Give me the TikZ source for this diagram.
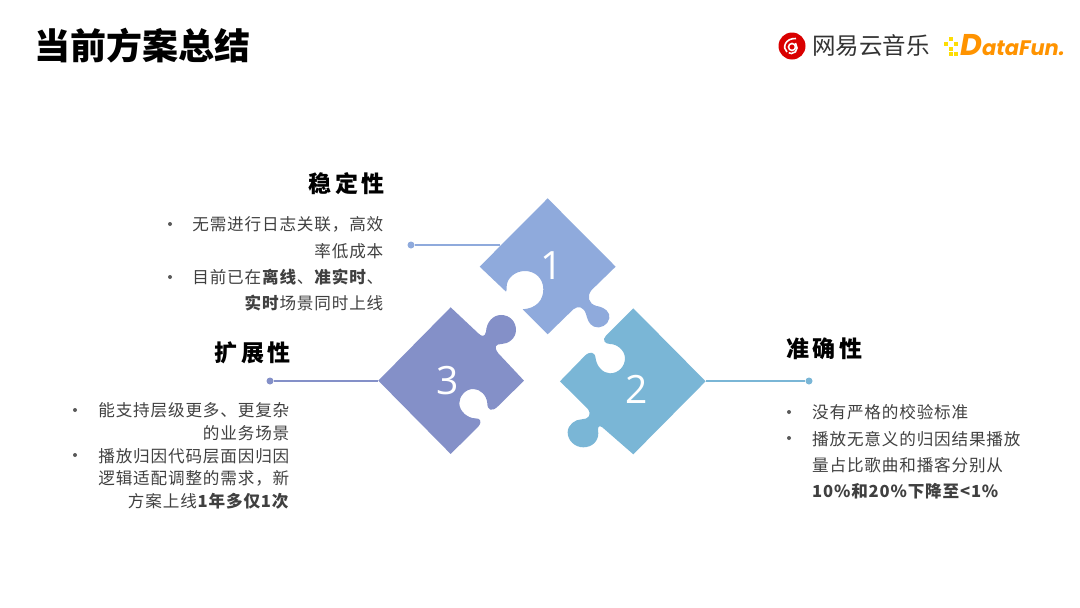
\documentclass[tikz,border=0pt]{standalone}
\usepackage{fontspec}
\setmainfont{Noto Sans CJK SC}
\newfontfamily\spacedfont[LetterSpace=5]{Noto Sans CJK SC}
\newfontfamily\headfont[LetterSpace=15]{Noto Sans CJK SC}
\newfontfamily\digitfont{Open Sans}
\newfontfamily\brandfont{Poppins}
\begin{document}
\begin{tikzpicture}[x=1pt,y=-1pt,
  body/.style={inner sep=0pt,text=black!75,font=\fontsize{16.6}{26.4}\selectfont\spacedfont},
  head/.style={inner sep=0pt,text=black,font=\fontsize{23}{26}\selectfont\headfont\bfseries},
  num/.style={inner sep=0pt,text=white,font=\fontsize{39}{39}\selectfont\digitfont},
  dot/.style={circle,fill=#1,inner sep=0pt,minimum size=7pt},
  tick/.style={circle,fill=black!65,inner sep=0pt,minimum size=4pt},
  link/.style={line width=2pt,draw=#1}]
\useasboundingbox (0,0) rectangle (1080,608);
\definecolor{blueA}{HTML}{8FAADC}
\definecolor{blueB}{HTML}{7AB6D6}
\definecolor{blueC}{HTML}{8490C8}
\node[inner sep=0pt,anchor=west,font=\fontsize{36}{37}\selectfont\bfseries] (title) at (34.5,45.5) {当前方案总结};

\coordinate (P1) at (500,245); \coordinate (P2) at (706,381); \coordinate (P3) at (378,381);
\node[dot=blueA] (D1) at (411,245) {}; \node[dot=blueB] (D2) at (809,381) {}; \node[dot=blueC] (D3) at (270,381) {};
\draw[link=blueA] (D1)--(P1); \draw[link=blueB] (D2)--(P2); \draw[link=blueC] (D3)--(P3);

\begin{scope}[shift={(370,190)},x=0.3333pt,y=-0.3333pt]
\fill[blueA] (533,25)--(737,230)--(665,300) .. controls (650,318) and (655,342) .. (680,348) .. controls (705,352) and (722,368) .. (718,385) .. controls (715,405) and (690,418) .. (672,410) .. controls (655,402) and (652,385) .. (648,372) .. controls (642,352) and (625,345) .. (610,358)--(533,433)--(458,358) .. controls (500,355) and (520,330) .. (520,298) .. controls (520,265) and (495,243) .. (465,243) .. controls (435,243) and (410,265) .. (410,290) .. controls (410,298) and (410,303) .. (408,305)--(329,230)--cycle;
\fill[blueC] (242,352)--(325,430) .. controls (335,440) and (345,442) .. (348,425) .. controls (350,395) and (370,375) .. (393,375) .. controls (420,375) and (438,395) .. (438,420) .. controls (438,445) and (415,462) .. (395,462) .. controls (378,462) and (370,470) .. (385,490)--(462,572)--(385,648) .. controls (365,668) and (352,660) .. (352,640) .. controls (350,615) and (330,597) .. (310,597) .. controls (285,597) and (268,620) .. (268,640) .. controls (268,665) and (295,685) .. (315,685) .. controls (330,685) and (338,692) .. (325,710)--(242,792)--(25,572)--cycle;
\fill[blueB] (790,355)--(1007,574)--(790,793)--(697,712) .. controls (685,702) and (682,715) .. (685,730) .. controls (685,755) and (665,772) .. (640,772) .. controls (615,772) and (593,752) .. (593,727) .. controls (593,705) and (615,688) .. (635,688) .. controls (655,688) and (668,675) .. (652,655)--(570,574)--(645,497) .. controls (660,483) and (675,485) .. (677,505) .. controls (680,530) and (700,550) .. (720,550) .. controls (745,550) and (765,530) .. (765,505) .. controls (765,480) and (740,462) .. (720,462) .. controls (705,462) and (695,450) .. (708,437)--cycle;
\end{scope}
\node[num] (n1) at (552,266) {1}; \node[num] (n2) at (637,389) {2}; \node[num] (n3) at (448,381) {3};

\node[head,anchor=east] (h1) at (385,184) {稳定性};
\node[head,anchor=east] (h3) at (291,353) {扩展性};
\node[head,anchor=west] (h2) at (786,349) {准确性};

\node[body,anchor=east,align=right] (t1) at (383.5,264) {无需进行日志关联，高效\\率低成本\\目前已在\textbf{离线}、\textbf{准实时}、\\\textbf{实时}场景同时上线};
\node[body,anchor=east,align=right,font=\fontsize{16.6}{22.8}\selectfont\spacedfont] (t3) at (289.5,456) {能支持层级更多、更复杂\\的业务场景\\播放归因代码层面因归因\\逻辑适配调整的需求，新\\方案上线\textbf{1年多仅1次}};
\node[body,anchor=west,align=left] (t2) at (812,452) {没有严格的校验标准\\播放无意义的归因结果播放\\量占比歌曲和播客分别从\\\textbf{10\%和20\%下降至<1\%}};
\foreach \n/\x/\y in {a/170/224,b/170/277,c/75/410,d/75/455,e/789/412,f/789/438} \node[tick] (tick\n) at (\x,\y) {};

\node[circle,fill=red!85!black,inner sep=0pt,minimum size=27pt] (neteaselogo) at (792,46) {};
\draw[white,line width=1.6pt] (792,47) circle (3.5pt);
\draw[white,line width=1.6pt] (796,38.5) .. controls (785,38) and (782,48) .. (787,52);
\draw[white,line width=1.6pt] (795.5,43) -- (797,48) arc (0:-120:5.5pt);
\node[inner sep=0pt,anchor=west,text=black!80,font=\fontsize{23.5}{24}\selectfont] (netease) at (812,46) {网易云音乐};
\foreach \x/\y in {944/42,949/37,949/47,954/42,954/52,949/52} \fill[yellow!80!orange] (\x,\y) rectangle +(4,4);
\node[inner sep=0pt,anchor=base west,text=orange!85!yellow,font=\fontsize{21}{24}\selectfont\brandfont\bfseries\itshape] (datafun) at (960,55.5) {{\fontsize{30}{30}\selectfont D}ataFun.};
\end{tikzpicture}
\end{document}
